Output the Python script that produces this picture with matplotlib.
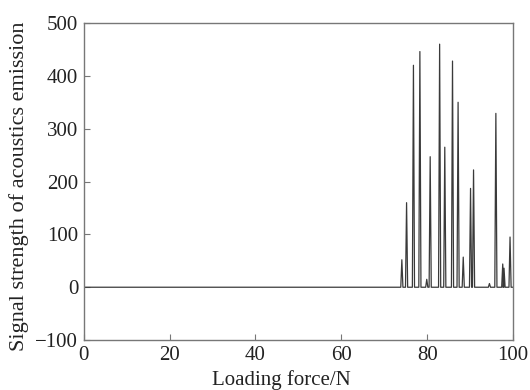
import matplotlib
matplotlib.use("Agg")
import matplotlib.pyplot as plt

# peak positions (loading force, N) and signal heights
peak_x = [74.1, 75.2, 76.8, 78.3, 79.9, 80.7, 82.9, 84.1, 85.9, 87.2,
          88.4, 90.1, 90.8, 94.5, 96.0, 97.6, 97.9, 99.3]
peak_y = [52, 160, 420, 446, 15, 247, 460, 265, 428, 350,
          57, 187, 222, 7, 329, 44, 36, 95]
half_width = 0.25

# build the signal trace: flat zero baseline with narrow peaks
xs = [0.0]
ys = [0.0]
for px, py in zip(peak_x, peak_y):
    xs += [px - half_width, px, px + half_width]
    ys += [0.0, py, 0.0]
xs.append(100.0)
ys.append(0.0)

plt.rcParams['font.family'] = ['Liberation Serif', 'DejaVu Serif']

fig = plt.figure(figsize=(5.3, 3.9), dpi=100)
ax = fig.add_axes([0.158, 0.128, 0.81, 0.813])

ax.plot(xs, ys, color="#3a3a3a", linewidth=0.9)

ax.set_xlim(0, 100)
ax.set_ylim(-100, 500)
ax.set_xticks([0, 20, 40, 60, 80, 100])
ax.set_yticks([-100, 0, 100, 200, 300, 400, 500])
ax.set_yticklabels(["\u2212100", "0", "100", "200", "300", "400", "500"])

for s in ax.spines.values():
    s.set_color("#777777")
    s.set_linewidth(1.0)
ax.tick_params(direction="in", length=4, color="#777777", labelsize=15,
               labelcolor="#222222", pad=4)

ax.set_xlabel("Loading force/N", fontsize=15, color="#222222")
ax.set_ylabel("Signal strength of acoustics emission", fontsize=16,
              color="#222222")
ax.xaxis.set_label_coords(0.46, -0.095)
ax.yaxis.set_label_coords(-0.128, 0.484)

fig.savefig("out.png", dpi=100)
